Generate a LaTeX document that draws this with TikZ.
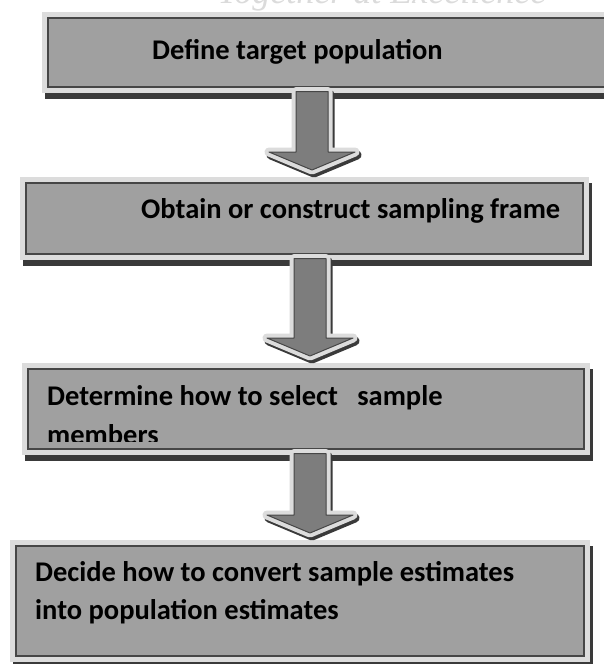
\documentclass[tikz,border=0pt]{standalone}
\usepackage{fontspec}
\setmainfont{Carlito}
\newfontfamily\mottofont{Liberation Serif}
\usetikzlibrary{positioning,calc}
\definecolor{stepFill}{RGB}{160,160,160}
\definecolor{stepRim}{RGB}{220,220,220}
\definecolor{stepEdge}{RGB}{70,70,70}
\definecolor{stepShade}{RGB}{58,58,58}
\definecolor{stepArrow}{RGB}{125,125,125}

\newcommand{\flowarrow}[3]{%
  \path[blockarrow] let \p1=(#2.south), \p2=(#3.north) in
    (#1pt-16pt,\y1-4pt) -- (#1pt+16pt,\y1-4pt) -- (#1pt+16pt,\y2+30pt)
    -- (#1pt+43pt,\y2+30pt) -- (#1pt,\y2+12pt) -- (#1pt-43pt,\y2+30pt)
    -- (#1pt-16pt,\y2+30pt) -- cycle;}

\begin{document}
\begin{tikzpicture}[
        x=1pt, y=-1pt,
        stepbox/.style={rectangle, anchor=north west, inner sep=0pt, fill=stepFill, draw=stepEdge, line width=1.5pt,
          preaction={draw=stepShade, fill=stepShade, line width=12pt, transform canvas={shift={(3pt,-6pt)}}},
          preaction={draw=stepRim, line width=12pt}},
        steptext/.style={inner sep=0pt, font=\bfseries\fontsize{28.5}{38}\selectfont, align=left},
        blockarrow/.style={fill=stepArrow, draw=stepEdge, line width=1pt, line join=round,
          preaction={draw=stepShade, line width=9pt, line join=round, transform canvas={shift={(2pt,-3pt)}}},
          preaction={draw=stepRim, line width=9pt, line join=round}},
        motto/.style={inner sep=0pt, anchor=base, text=black!14, font=\mottofont\itshape\fontsize{36}{36}\selectfont}
      ]
        \fill[white] (0,0) rectangle (603,664);
        \useasboundingbox (0,0) rectangle (603,664);
        \node[motto] (motto) at (382,3) {Together at Excellence};
        \node[stepbox, minimum width=580pt, minimum height=69pt] (b1) at (47,17) {};
        \node[stepbox, minimum width=557pt, minimum height=71pt] (b2) at (25,182) {};
        \node[stepbox, minimum width=556pt, minimum height=80pt] (b3) at (27,368) {};
        \node[stepbox, minimum width=568pt, minimum height=110pt] (b4) at (15,545) {};
        \node[steptext, below right=42.5pt and 105pt of b1.north west, anchor=base west] (t1) {Define target population};
        \node[steptext, below right=36pt and 116pt of b2.north west, anchor=base west] (t2) {Obtain or construct sampling frame};
        \begin{scope}
          \clip (b3.north west) rectangle ([yshift=8pt]b3.south east);
          \node[steptext, font=\bfseries\fontsize{28.5}{39}\selectfont, below right=76pt and 20pt of b3.north west, anchor=base west] (t3) {Determine how to select\ \ \ sample\\members};
        \end{scope}
        \node[steptext, below right=74pt and 20pt of b4.north west, anchor=base west] (t4) {Decide how to convert sample estimates\\into population estimates};
        \flowarrow{312}{b1}{b2}
        \flowarrow{310}{b2}{b3}
        \flowarrow{310}{b3}{b4}
      \end{tikzpicture}
\end{document}
